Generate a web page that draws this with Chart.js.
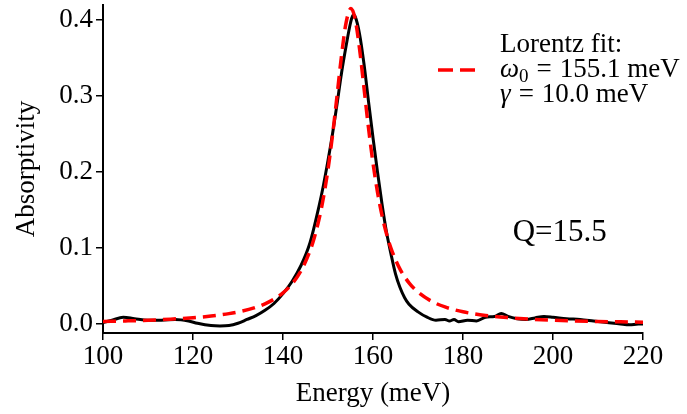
<!DOCTYPE html>
<html>
<head>
<meta charset="utf-8">
<script src="https://cdn.jsdelivr.net/npm/chart.js@4/dist/chart.umd.min.js"></script>
<style>
  html, body { margin: 0; padding: 0; background: #fff; }
  #wrap { width: 687px; height: 414px; }
</style>
</head>
<body>
<div id="wrap"><canvas id="chart" width="687" height="414"></canvas></div>
<script>
// measured absorptivity (black line)
const energy = [100, 102, 104.5, 107, 110, 113, 116, 119, 121, 124, 126, 128, 130, 132, 134, 136, 138, 140,
  142, 144, 146, 148, 149, 150, 151, 152, 153, 154, 155, 155.6, 156, 157, 158, 159, 160, 161, 162, 163,
  164, 165, 166, 167, 168, 170, 172, 174, 176, 177, 178, 179, 181, 183, 185, 187, 188.5, 190, 192, 194,
  196, 198, 200, 203, 206, 209, 212, 215, 217, 219, 220];
const absorptivity = [0.002, 0.005, 0.009, 0.007, 0.005, 0.005, 0.006, 0.004, 0.001, -0.002, -0.0025, -0.002,
  0.001, 0.006, 0.011, 0.018, 0.027, 0.040, 0.056, 0.077, 0.107, 0.155, 0.183, 0.215, 0.25, 0.289, 0.33,
  0.365, 0.396, 0.407, 0.405, 0.382, 0.342, 0.293, 0.245, 0.2, 0.158, 0.121, 0.092, 0.066, 0.048, 0.035,
  0.026, 0.016, 0.009, 0.005, 0.006, 0.004, 0.006, 0.003, 0.005, 0.004, 0.009, 0.01, 0.014, 0.01, 0.007,
  0.006, 0.008, 0.01, 0.009, 0.007, 0.006, 0.004, 0.002, 0.0, -0.001, 0.0, 0.0];

// Lorentz fit (red dashed)
const fitEnergy = [100, 105, 110, 115, 120, 124, 128, 131, 134, 136, 138, 140, 142, 144, 146, 147, 148, 149,
  150, 151, 152, 153, 154, 155.1, 156, 157, 158, 159, 160, 161, 162, 163, 164, 166, 168, 170, 173, 176,
  180, 185, 190, 195, 200, 205, 210, 215, 220];
const fitAbs = [0.0034, 0.0041, 0.0050, 0.0064, 0.0083, 0.0105, 0.0137, 0.0171, 0.0221, 0.0266, 0.0327,
  0.0410, 0.0528, 0.0700, 0.0962, 0.1145, 0.1376, 0.1668, 0.2034, 0.2482, 0.2998, 0.3528, 0.3958, 0.415,
  0.4020, 0.3626, 0.3105, 0.2580, 0.2117, 0.1735, 0.1429, 0.1187, 0.0996, 0.0722, 0.0542, 0.0420, 0.0300,
  0.0225, 0.0161, 0.0113, 0.0084, 0.0064, 0.0051, 0.0041, 0.0034, 0.0029, 0.0025];

const xTicks = [100, 120, 140, 160, 180, 200, 220];
const yTicks = [0.0, 0.1, 0.2, 0.3, 0.4];
const legendLines = ['Lorentz fit:', '155.1 meV', '10.0 meV'];
const qLabel = 'Q=15.5';

const FONT = '"Liberation Serif", "Times New Roman", serif';

const toPoints = (xs, ys) => xs.map((x, i) => ({ x: x, y: ys[i] }));

// legend + Q annotation, drawn on top
const extras = {
  id: 'extras',
  afterDraw(chart) {
    const ctx = chart.ctx;
    ctx.save();
    ctx.fillStyle = '#000';
    ctx.textBaseline = 'alphabetic';
    ctx.textAlign = 'left';

    // legend swatch
    ctx.strokeStyle = '#ff0000';
    ctx.lineWidth = 3.5;
    ctx.setLineDash([15, 7]);
    ctx.beginPath();
    ctx.moveTo(438, 70);
    ctx.lineTo(476, 70);
    ctx.stroke();
    ctx.setLineDash([]);

    const tx = 500;
    const body = '27px ' + FONT;
    ctx.font = body;
    ctx.fillText(legendLines[0], tx, 52);

    // omega_0 = ...
    ctx.font = 'italic 27px ' + FONT;
    ctx.fillText('\u03c9', tx, 77);
    let w = ctx.measureText('\u03c9').width;
    ctx.font = '19px ' + FONT;
    ctx.fillText('0', tx + w, 82);
    w += ctx.measureText('0').width + 8;
    ctx.font = body;
    ctx.fillText('=', tx + w, 77);
    w += ctx.measureText('=').width + 8;
    ctx.fillText(legendLines[1], tx + w, 77);

    // gamma = ...
    ctx.font = 'italic 27px ' + FONT;
    ctx.fillText('\u03b3', tx, 102);
    w = ctx.measureText('\u03b3').width + 8;
    ctx.font = body;
    ctx.fillText('=', tx + w, 102);
    w += ctx.measureText('=').width + 8;
    ctx.fillText(legendLines[2], tx + w, 102);

    // Q annotation
    const xs = chart.scales.x, ys = chart.scales.y;
    ctx.font = '31px ' + FONT;
    ctx.textAlign = 'center';
    ctx.textBaseline = 'middle';
    ctx.fillText(qLabel, xs.getPixelForValue(201.5), ys.getPixelForValue(0.12));
    ctx.restore();
  }
};

new Chart(document.getElementById('chart'), {
  type: 'line',
  data: {
    datasets: [
      {
        label: 'Lorentz fit',
        data: toPoints(fitEnergy, fitAbs),
        borderColor: '#ff0000',
        borderWidth: 3.5,
        borderDash: [13, 7],
        pointRadius: 0,
        cubicInterpolationMode: 'monotone',
        order: 0
      },
      {
        label: 'data',
        data: toPoints(energy, absorptivity),
        borderColor: '#000',
        borderWidth: 3,
        pointRadius: 0,
        cubicInterpolationMode: 'monotone',
        order: 1
      }
    ]
  },
  options: {
    responsive: false,
    animation: false,
    layout: { padding: { top: 5, right: 44, left: 0, bottom: 0 } },
    plugins: { legend: { display: false }, tooltip: { enabled: false } },
    scales: {
      x: {
        type: 'linear',
        min: 100,
        max: 220,
        afterBuildTicks: (s) => { s.ticks = xTicks.map(v => ({ value: v })); },
        afterFit: (s) => { s.height = 81; s.paddingLeft = 0; s.paddingRight = 0; },
        ticks: { color: '#000', font: { family: FONT, size: 27 }, padding: 1, maxRotation: 0 },
        grid: { drawOnChartArea: false, tickLength: 7, color: '#000', lineWidth: 1.5 },
        border: { color: '#000', width: 2 },
        title: { display: true, text: 'Energy (meV)', color: '#000',
          font: { family: FONT, size: 27 }, padding: { top: 0, bottom: 4 } }
      },
      y: {
        min: -0.0118,
        max: 0.4197,
        afterBuildTicks: (s) => { s.ticks = yTicks.map(v => ({ value: v })); },
        afterFit: (s) => { s.width = 103; s.paddingTop = 0; s.paddingBottom = 0; },
        ticks: { color: '#000', font: { family: FONT, size: 27 }, padding: 3,
          callback: (v) => v.toFixed(1) },
        grid: { drawOnChartArea: false, tickLength: 7, color: '#000', lineWidth: 1.5 },
        border: { color: '#000', width: 2 },
        title: { display: true, text: 'Absorptivity', color: '#000',
          font: { family: FONT, size: 27 }, padding: { top: 11, bottom: 0 } }
      }
    }
  },
  plugins: [extras]
});
</script>
</body>
</html>
